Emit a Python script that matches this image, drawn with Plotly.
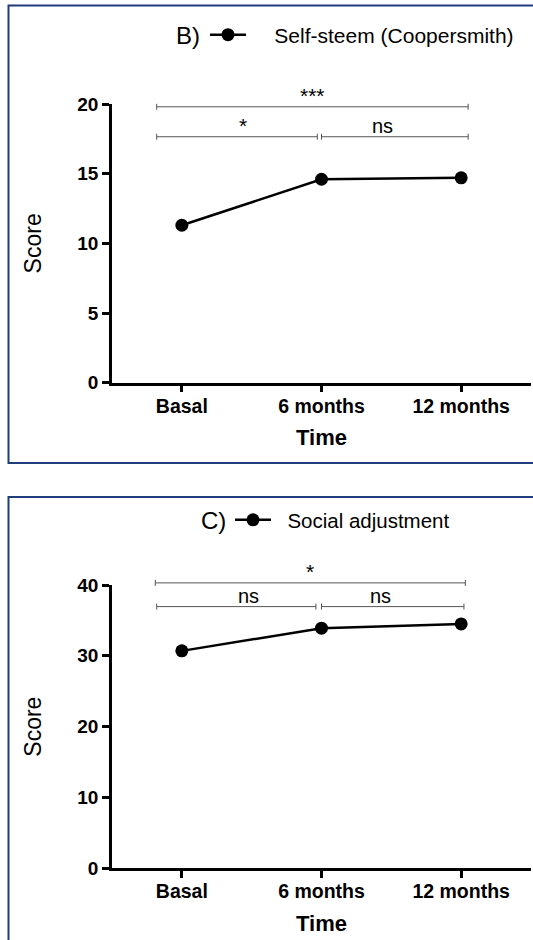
import plotly.graph_objects as go

# ---------------- data ----------------
categories = ["Basal", "6 months", "12 months"]
x_pos = [0, 1, 2]
self_esteem = [11.3, 14.6, 14.7]      # panel B
social_adjust = [30.7, 33.9, 34.5]    # panel C

# significance brackets (start, end in category units; height in score units)
sig_b_x0 = [-0.18, -0.18, 1.0]
sig_b_x1 = [2.05, 0.97, 2.05]
sig_b_y = [19.8, 17.65, 17.65]
sig_b_lbl = ["***", "*", "ns"]

sig_c_x0 = [-0.19, -0.18, 1.0]
sig_c_x1 = [2.03, 0.96, 2.02]
sig_c_y = [40.3, 36.95, 36.95]
sig_c_lbl = ["*", "ns", "ns"]

# ---------------- layout helpers ----------------
W, H = 533, 940
FONT = "Arial, Liberation Sans, sans-serif"
BORDER = "#1f3c7c"
XR = [-0.5, 2.5]


def fx(p):
    return p / W


def fy(p):
    return 1 - p / H


fig = go.Figure()

fig.add_trace(go.Scatter(
    x=x_pos, y=self_esteem, mode="lines+markers", name="    Self-steem (Coopersmith)",
    line=dict(color="black", width=2.5), marker=dict(color="black", size=13),
    xaxis="x", yaxis="y", legend="legend", showlegend=True, cliponaxis=False))
fig.add_trace(go.Scatter(
    x=x_pos, y=social_adjust, mode="lines+markers", name="  Social adjustment",
    line=dict(color="black", width=2.5), marker=dict(color="black", size=13),
    xaxis="x2", yaxis="y2", legend="legend2", showlegend=True, cliponaxis=False))

xcommon = dict(range=XR, tickvals=x_pos, ticktext=categories, ticks="outside",
               ticklen=7, tickwidth=2.5, tickcolor="black", showline=True,
               linewidth=2.5, linecolor="black", showgrid=False, zeroline=False,
               tickfont=dict(family=FONT, size=19.5, color="black", weight="bold"),
               ticklabelstandoff=-3,
               fixedrange=True, automargin=False)
ycommon = dict(ticks="outside", ticklen=7, tickwidth=2.5, tickcolor="black",
               showline=True, linewidth=2.5, linecolor="black", showgrid=False,
               zeroline=False,
               tickfont=dict(family=FONT, size=19, color="black", weight="bold"),
               fixedrange=True, automargin=False)

fig.update_layout(
    width=W, height=H,
    margin=dict(l=0, r=0, t=0, b=0, pad=0, autoexpand=False),
    paper_bgcolor="white", plot_bgcolor="white",
    font=dict(family=FONT, color="black"),
    showlegend=True,
    xaxis=dict(**xcommon, domain=[fx(112), fx(531)], anchor="y",
               title=dict(text="Time", standoff=14,
                          font=dict(family=FONT, size=22, weight="bold"))),
    yaxis=dict(**ycommon, range=[0, 20], dtick=5,
               domain=[fy(382.7), fy(104)], anchor="x",
               title=dict(text="Score", standoff=30,
                          font=dict(family=FONT, size=23))),
    xaxis2=dict(**xcommon, domain=[fx(112), fx(531)], anchor="y2",
                title=dict(text="Time", standoff=15,
                           font=dict(family=FONT, size=22, weight="bold"))),
    yaxis2=dict(**ycommon, range=[0, 40], dtick=10,
                domain=[fy(868.3), fy(585)], anchor="x2",
                title=dict(text="Score", standoff=30,
                           font=dict(family=FONT, size=23))),
    legend=dict(x=fx(205), y=fy(35), xanchor="left", yanchor="middle",
                font=dict(family=FONT, size=21, color="black"),
                bgcolor="rgba(0,0,0,0)", borderwidth=0, itemwidth=36),
    legend2=dict(x=fx(230), y=fy(520), xanchor="left", yanchor="middle",
                 font=dict(family=FONT, size=20.5, color="black"),
                 bgcolor="rgba(0,0,0,0)", borderwidth=0, itemwidth=36),
)

# panel borders
fig.add_shape(type="rect", xref="paper", yref="paper", x0=fx(8.5), x1=1.05,
              y0=fy(463), y1=fy(5.5), line=dict(color=BORDER, width=2))
fig.add_shape(type="rect", xref="paper", yref="paper", x0=fx(8.5), x1=1.05,
              y0=-0.05, y1=fy(497), line=dict(color=BORDER, width=2))

# panel letters
fig.add_annotation(text="B)", xref="paper", yref="paper", x=fx(174), y=fy(35),
                   xanchor="left", yanchor="middle", showarrow=False,
                   font=dict(family=FONT, size=24, color="black"))
fig.add_annotation(text="C)", xref="paper", yref="paper", x=fx(199), y=fy(520),
                   xanchor="left", yanchor="middle", showarrow=False,
                   font=dict(family=FONT, size=24, color="black"))


def add_brackets(xs0, xs1, ys, labels, xax, yax, ymax):
    for a, b, v, lbl in zip(xs0, xs1, ys, labels):
        fa = (a - XR[0]) / (XR[1] - XR[0])
        fb = (b - XR[0]) / (XR[1] - XR[0])
        fv = v / ymax
        line = dict(color="#555555", width=1)
        fig.add_shape(type="line", xref=xax + " domain", yref=yax + " domain",
                      x0=fa, x1=fb, y0=fv, y1=fv, line=line)
        for e in (fa, fb):
            fig.add_shape(type="line", xref=xax + " domain", yref=yax + " domain",
                          x0=e, x1=e, ysizemode="pixel", yanchor=fv, y0=-3, y1=3,
                          line=line)
        size = 21 if "*" in lbl else 20
        fig.add_annotation(text=lbl, xref=xax + " domain", yref=yax + " domain",
                           x=(fa + fb) / 2, y=fv,
                           yanchor="bottom", yshift=-2, showarrow=False,
                           font=dict(family=FONT, size=size, color="black"))


add_brackets(sig_b_x0, sig_b_x1, sig_b_y, sig_b_lbl, "x", "y", 20)
add_brackets(sig_c_x0, sig_c_x1, sig_c_y, sig_c_lbl, "x2", "y2", 40)

POST = (
    "document.documentElement.style.margin='0';"
    "document.body.style.margin='0';"
    "document.body.style.overflow='hidden';"
)

fig.write_html("out.html", config={"displayModeBar": False}, post_script=POST)
